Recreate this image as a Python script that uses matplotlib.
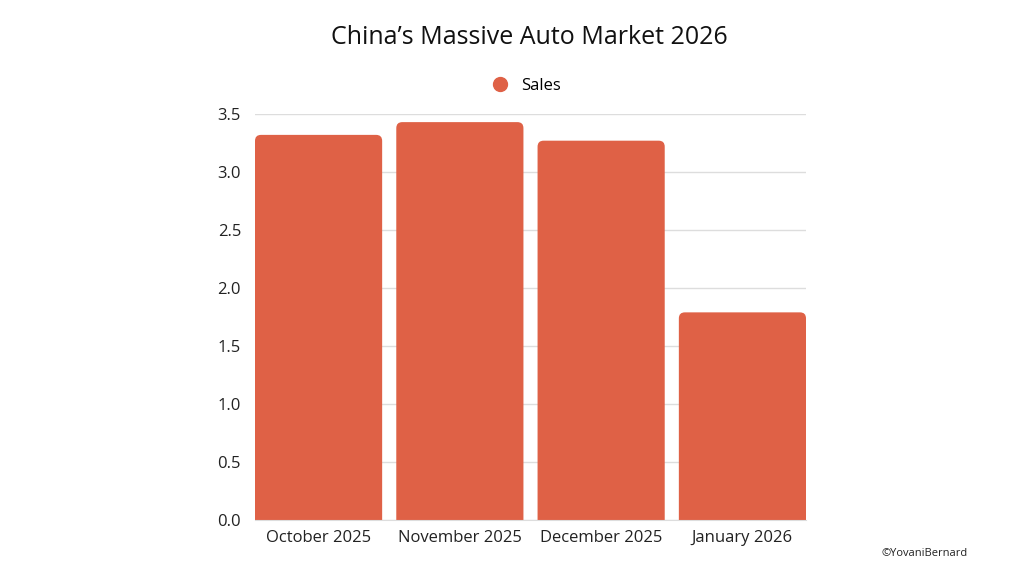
import matplotlib
matplotlib.use("Agg")
import matplotlib.pyplot as plt
from matplotlib.patches import FancyBboxPatch
from matplotlib.lines import Line2D

categories = ["October 2025", "November 2025", "December 2025", "January 2026"]
sales = [3.32, 3.43, 3.27, 1.79]
yticks = [0.0, 0.5, 1.0, 1.5, 2.0, 2.5, 3.0, 3.5]

plt.rcParams['font.family'] = ['Open Sans', 'DejaVu Sans']
color = "#DF6146"

fig = plt.figure(figsize=(10.24, 5.76), dpi=100)
ax = fig.add_axes([255/1024, 1-520/576, (806-255)/1024, (520-114)/576])

x = list(range(len(categories)))
bars = ax.bar(x, sales, width=0.9, color=color, alpha=0)
ax.set_xlim(-0.45, 3.45)
ax.set_ylim(0, 3.5)

# rounded tops (bottom corners pushed below the axis and clipped)
xpx = (806-255)/3.9
ypx = (520-114)/3.5
r_px = 6
ext = 0.2
for b in bars:
    x0, w, h = b.get_x(), b.get_width(), b.get_height()
    r = r_px / xpx
    p = FancyBboxPatch((x0, -ext), w, h + ext, boxstyle=f"round,pad=0,rounding_size={r}",
                       mutation_aspect=xpx/ypx, facecolor=color, edgecolor="none", zorder=3)
    ax.add_patch(p)

ax.set_yticks(yticks)
ax.set_yticklabels([f"{t:.1f}" for t in yticks])
ax.set_xticks(x)
ax.set_xticklabels(categories)
ax.tick_params(axis='both', length=0, labelsize=12, colors="#222222")
ax.tick_params(axis='x', pad=7)
ax.tick_params(axis='y', pad=10)
ax.grid(axis='y', color="#dddddd", linewidth=1, zorder=0)
ax.set_axisbelow(True)
for s in ["top", "right", "left"]:
    ax.spines[s].set_visible(False)
ax.spines["bottom"].set_color("#dddddd")
ax.spines["bottom"].set_zorder(4)

fig.text(0.517, 1-38/576, "China\u2019s Massive Auto Market 2026", ha="center", va="center",
         fontsize=18, color="#111111")
handle = Line2D([], [], marker='o', linestyle='none', markersize=10, color=color)
fig.legend([handle], ["Sales"], loc="center", bbox_to_anchor=(0.51, 1-86/576),
           frameon=False, fontsize=12, handletextpad=0.3)
fig.text(925/1024, 1-553/576, "\u00a9YovaniBernard", ha="center", va="center",
         fontsize=8, color="#222222")

fig.savefig("out.png", dpi=100)
